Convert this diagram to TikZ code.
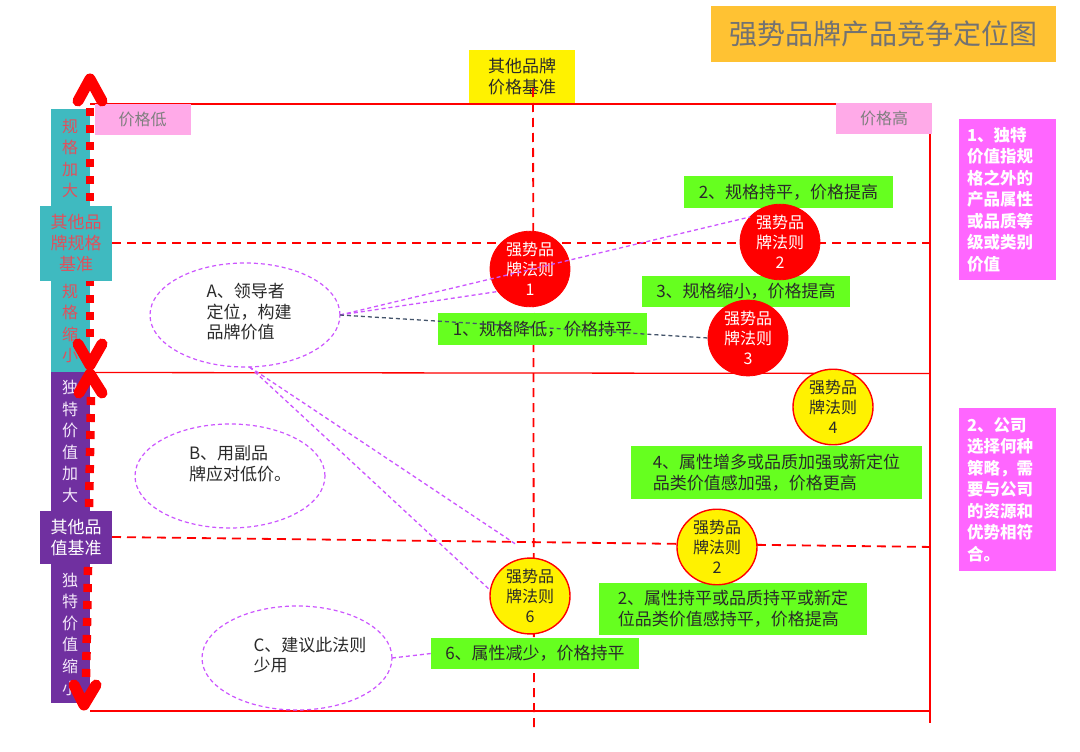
\documentclass[tikz,border=0pt]{standalone}
\usepackage{fontspec}
\setmainfont{Noto Sans CJK SC}
\usetikzlibrary{shapes.geometric}
\definecolor{tealbox}{HTML}{3FBAC0}
\definecolor{purpbox}{HTML}{7030A0}
\definecolor{limebox}{HTML}{66FF1F}
\definecolor{pinkbox}{HTML}{FFAAE8}
\definecolor{magbox}{HTML}{FF66FF}
\definecolor{orngbox}{HTML}{FFC233}
\definecolor{violline}{HTML}{CC55FF}
\definecolor{navyline}{HTML}{44546A}
\definecolor{tealtxt}{HTML}{E0505C}
\definecolor{purptxt}{HTML}{F4E8FA}
\definecolor{graytxt}{HTML}{7F7F7F}
\definecolor{darktxt}{HTML}{2A2A2A}
\tikzset{
  plainbox/.style={inner sep=0pt, outer sep=0pt, align=center},
  vtext/.style={inner sep=0pt, align=center, font=\fontsize{16}{21.6}\selectfont},
  greenbox/.style={plainbox, fill=limebox, text=darktxt, font=\fontsize{17}{21}\selectfont},
  pinklabel/.style={plainbox, fill=pinkbox, text=graytxt, font=\fontsize{16}{20}\selectfont, minimum width=96, minimum height=31},
  magnote/.style={plainbox, fill=magbox, text=white, align=left, text width=81, minimum width=97, font=\bfseries\fontsize{16.5}{21.5}\selectfont},
  redcircle/.style={ellipse, plainbox, fill=red, draw=red, line width=0.8, minimum width=80, minimum height=71, text=white, font=\fontsize{16}{20}\selectfont},
  yelcircle/.style={ellipse, plainbox, fill=yellow, draw=red, line width=1.4, minimum width=80, minimum height=71, text=darktxt, font=\fontsize{16}{20}\selectfont},
  strategy/.style={ellipse, plainbox, draw=violline, line width=1.2, dash pattern=on 4pt off 3pt, minimum width=190, minimum height=104},
  strattext/.style={inner sep=0pt, align=left, text=darktxt, font=\fontsize{17}{20.5}\selectfont},
  gridline/.style={draw=red, line width=1.3},
  gridcut/.style={draw=red, line width=1.8, dash pattern=on 9pt off 6pt},
  dotaxis/.style={draw=red, line width=8.5pt, dash pattern=on 8pt off 9pt},
  chevron/.style={draw=red, line width=11pt, line cap=round, line join=round},
  vconn/.style={draw=violline, line width=1.3, dash pattern=on 4pt off 3pt},
  nconn/.style={draw=navyline, line width=1.3, dash pattern=on 4pt off 3pt}
}
\begin{document}
\begin{tikzpicture}[x=1pt,y=-1pt]
\useasboundingbox (0,0) rectangle (1080,752);
\fill[white] (0,0) rectangle (1080,752);

% left axis bands
\node[plainbox, fill=tealbox, minimum width=39, minimum height=263] (tealcol) at (70.5,240.5) {};
\node[plainbox, fill=purpbox, minimum width=39, minimum height=331] (purpcol) at (70.5,537.5) {};
\node[vtext, text=tealtxt] (specup) at (70,158.5) {规\\格\\加\\大};
\node[vtext, text=tealtxt] (specdown) at (70,323.5) {规\\格\\缩\\小};
\node[vtext, text=purptxt] (valup) at (70,441.5) {独\\特\\价\\值\\加\\大};
\node[vtext, text=purptxt] (valdown) at (70,634) {独\\特\\价\\值\\缩\\小};

% frame
\coordinate (ftl) at (90,104);
\coordinate (ftr) at (930,104);
\coordinate (fml) at (90,372.5);
\coordinate (fmr) at (930,373.5);
\coordinate (fbl) at (90,711);
\coordinate (fbr) at (930,711);
\coordinate (frb) at (930,723);
\draw[gridline] (ftl) -- (ftr);
\draw[gridline] (fml) -- (fmr);
\draw[gridline] (fbl) -- (fbr);
\draw[gridline] (ftr) -- (frb);

% title and price baseline label
\node[plainbox, fill=orngbox, text=graytxt!90!black, minimum width=345, minimum height=56, font=\fontsize{28}{32}\selectfont] (title) at (883.5,34) {强势品牌产品竞争定位图};
\node[plainbox, fill=yellow, text=darktxt, minimum width=106, minimum height=53, font=\fontsize{17}{21}\selectfont] (pricebase) at (522,76.5) {其他品牌\\价格基准};

% dashed reference lines
\coordinate (hs1l) at (112,243);
\coordinate (hs1r) at (930,243);
\coordinate (hs2l) at (112,537);
\coordinate (hs2r) at (935,547);
\coordinate (vpt) at (533,88);
\coordinate (vpb) at (534,730);
\draw[gridcut] (hs1l) -- (hs1r);
\draw[gridcut] (hs2l) -- (hs2r);
\draw[gridcut] (vpt) -- (vpb);

\node[pinklabel] (plow) at (142.5,119.5) {价格低};
\node[pinklabel] (phigh) at (884,118.5) {价格高};

% dotted axis arrows
\coordinate (a1t) at (90,108);
\coordinate (a1b) at (90,340);
\coordinate (a1tip) at (90,79);
\coordinate (a1l) at (78,101);
\coordinate (a1r) at (102,101);
\coordinate (a1dtip) at (90,365);
\coordinate (a1dl) at (78,344);
\coordinate (a1dr) at (102,344);
\draw[dotaxis] (a1t) -- (a1b);
\draw[chevron] (a1l) -- (a1tip) -- (a1r);
\draw[chevron] (a1dl) -- (a1dtip) -- (a1dr);
\coordinate (a2t) at (91,397);
\coordinate (a2b) at (86,682);
\coordinate (a2tip) at (90,374);
\coordinate (a2l) at (79,393);
\coordinate (a2r) at (102,393);
\coordinate (a2dtip) at (84,705);
\coordinate (a2dl) at (74,685);
\coordinate (a2dr) at (96,685);
\draw[dotaxis] (a2t) -- (a2b);
\draw[chevron] (a2l) -- (a2tip) -- (a2r);
\draw[chevron] (a2dl) -- (a2dtip) -- (a2dr);

% baseline boxes on the axes (above the dotted arrows)
\node[plainbox, fill=tealbox, text=tealtxt, minimum width=72, minimum height=75, font=\fontsize{17}{21}\selectfont] (specbase) at (76,243.5) {其他品\\牌规格\\基准};
\node[plainbox, fill=purpbox, text=white, minimum width=72, minimum height=53, font=\fontsize{17}{21}\selectfont] (valbase) at (76,537.5) {其他品\\值基准};

% green strategy boxes
\node[greenbox, minimum width=209, minimum height=32] (g1) at (542.5,329) {1、规格降低，价格持平};
\node[greenbox, minimum width=209, minimum height=32] (g2) at (788.5,192) {2、规格持平，价格提高};
\node[greenbox, minimum width=208, minimum height=31] (g3) at (746,291.5) {3、规格缩小，价格提高};
\node[greenbox, minimum width=291, minimum height=53, align=left] (g4) at (776.5,472.5) {4、属性增多或品质加强或新定位\\品类价值感加强，价格更高};
\node[greenbox, minimum width=268, minimum height=52, align=left] (g5) at (733,609) {2、属性持平或品质持平或新定\\位品类价值感持平，价格提高};
\node[greenbox, minimum width=208, minimum height=31] (g6) at (535,653.5) {6、属性减少，价格持平};

% rule circles
\node[redcircle] (c1) at (530,269) {强势品\\牌法则\\1};
\node[redcircle] (c2) at (780,242) {强势品\\牌法则\\2};
\node[redcircle] (c3) at (748,338) {强势品\\牌法则\\3};
\node[yelcircle] (y4) at (833,407) {强势品\\牌法则\\4};
\node[yelcircle] (y2) at (717,547) {强势品\\牌法则\\2};
\node[yelcircle] (y6) at (530,596) {强势品\\牌法则\\6};

% strategy ellipses
\node[strategy] (sa) at (245,315) {};
\node[strategy] (sb) at (230,476) {};
\node[strategy] (sc) at (297,658) {};
\node[strattext] (sat) at (249,312) {A、领导者\\定位，构建\\品牌价值};
\node[strattext] (sbt) at (240,464) {B、用副品\\牌应对低价。};
\node[strattext] (sct) at (310,655) {C、建议此法则\\少用};

% right notes
\node[magnote, minimum height=161] (m1) at (1007.5,199.5) {1、独特\\价值指规\\格之外的\\产品属性\\或品质等\\级或类别\\价值};
\node[magnote, minimum height=163] (m2) at (1007.5,489.5) {2、公司\\选择何种\\策略，需\\要与公司\\的资源和\\优势相符\\合。};

% connectors
\coordinate (p1) at (517,545);
\draw[vconn] (sa.east) -- (c1.215);
\draw[vconn] (sa.east) -- (c2.140);
\draw[nconn] (sa.east) -- (c3.west);
\draw[vconn] (sa.275) -- (p1);
\draw[vconn] (sa.275) -- (y6.172);
\draw[vconn] (sc.east) -- (g6.west);
\end{tikzpicture}
\end{document}
